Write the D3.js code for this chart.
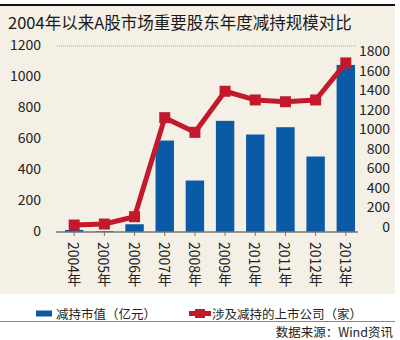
<!DOCTYPE html>
<html><head><meta charset="utf-8">
<script src="https://cdn.jsdelivr.net/npm/d3@7/dist/d3.min.js"></script>
<style>body{margin:0;background:#fff}svg{display:block}</style>
</head><body>
<svg id="c" width="400" height="340"></svg>
<script>
const years = ["2004年","2005年","2006年","2007年","2008年","2009年","2010年","2011年","2012年","2013年"];
const reduceValue = [13, 6, 50, 590, 332, 717, 629, 676, 487, 1078];
const companies = [10, 20, 95, 1108, 958, 1378, 1289, 1271, 1289, 1668];
const leftTicks = [0, 200, 400, 600, 800, 1000, 1200];
const rightTicks = [0, 200, 400, 600, 800, 1000, 1200, 1400, 1600, 1800];
const seriesNames = ["减持市值（亿元）", "涉及减持的上市公司（家）"];
const titleText = "2004年以来A股市场重要股东年度减持规模对比";
const sourceText = "数据来源：Wind资讯";

const FONT = "'Noto Sans CJK SC','Noto Sans',sans-serif";
const BLUE = "#0b5aa6", RED = "#c21a2c", BG = "#f4f0e6";
const svg = d3.select("#c").style("font-family", FONT);

svg.append("rect").attr("x",0).attr("y",5).attr("width",395).attr("height",289).attr("fill",BG);
svg.append("rect").attr("x",0).attr("y",4).attr("width",395).attr("height",2).attr("fill","#111");
svg.append("text").attr("x",8).attr("y",22).attr("dominant-baseline","central")
  .attr("font-size",16.5).attr("fill","#1a1a1a").text(titleText);

const x = d3.scaleBand().domain(years).range([59.1, 360.9]).paddingInner(0.39).paddingOuter(0.195);
const yL = d3.scaleLinear().domain([0,1200]).range([232,46]);
const yR = d3.scaleLinear().domain([0,1800]).range([226,50]);

svg.append("line").attr("x1",57).attr("x2",357).attr("y1",yL(1200)).attr("y2",yL(1200))
  .attr("stroke","#999").attr("stroke-width",0.8).attr("stroke-dasharray","1,1");

svg.append("g").selectAll("text").data(leftTicks).join("text")
  .attr("x",41).attr("y",d=>yL(d)-2).attr("text-anchor","end").attr("dominant-baseline","central")
  .attr("font-size",14).attr("fill","#222").text(d=>d);
svg.append("g").selectAll("text").data(rightTicks).join("text")
  .attr("x",390).attr("y",d=>yR(d)).attr("text-anchor","end").attr("dominant-baseline","central")
  .attr("font-size",14).attr("fill","#222").text(d=>d);

svg.append("g").selectAll("rect").data(years).join("rect")
  .attr("x",d=>x(d)).attr("width",x.bandwidth())
  .attr("y",(d,i)=>yL(reduceValue[i])).attr("height",(d,i)=>yL(0)-yL(reduceValue[i]))
  .attr("fill",BLUE);

svg.append("line").attr("x1",56).attr("x2",358).attr("y1",232).attr("y2",232)
  .attr("stroke","#777").attr("stroke-width",1.5);
svg.append("g").selectAll("line").data(years).join("line")
  .attr("x1",d=>x(d)+x.bandwidth()/2).attr("x2",d=>x(d)+x.bandwidth()/2)
  .attr("y1",232).attr("y2",236).attr("stroke","#777").attr("stroke-width",1);

svg.append("g").selectAll("text").data(years).join("text")
  .attr("x",d=>x(d)+x.bandwidth()/2).attr("y",242)
  .style("writing-mode","vertical-rl")
  .attr("font-size",14).attr("fill","#222").text(d=>d);

const pts = years.map((d,i)=>[x(d)+x.bandwidth()/2, yR(companies[i])]);
svg.append("path").attr("d",d3.line()(pts)).attr("fill","none")
  .attr("stroke",RED).attr("stroke-width",5).attr("stroke-linejoin","round");
svg.append("g").selectAll("rect").data(pts).join("rect")
  .attr("x",d=>d[0]-5.5).attr("y",d=>d[1]-5.5).attr("width",11).attr("height",11).attr("fill",RED);

svg.append("rect").attr("x",36).attr("y",310.5).attr("width",16).attr("height",6).attr("fill",BLUE);
svg.append("text").attr("x",56).attr("y",313).attr("dominant-baseline","central")
  .attr("font-size",12.5).attr("fill","#222").text(seriesNames[0]);
svg.append("line").attr("x1",189).attr("x2",211).attr("y1",313.5).attr("y2",313.5)
  .attr("stroke",RED).attr("stroke-width",5);
svg.append("rect").attr("x",195).attr("y",309).attr("width",10).attr("height",9).attr("fill",RED);
svg.append("text").attr("x",212).attr("y",313).attr("dominant-baseline","central")
  .attr("font-size",12.5).attr("fill","#222").text(seriesNames[1]);

svg.append("line").attr("x1",0).attr("x2",395).attr("y1",321.5).attr("y2",321.5)
  .attr("stroke","#888").attr("stroke-width",1);
svg.append("text").attr("x",393).attr("y",331.5).attr("text-anchor","end").attr("dominant-baseline","central")
  .attr("font-size",12.5).attr("fill","#222").text(sourceText);
</script>
</body></html>
